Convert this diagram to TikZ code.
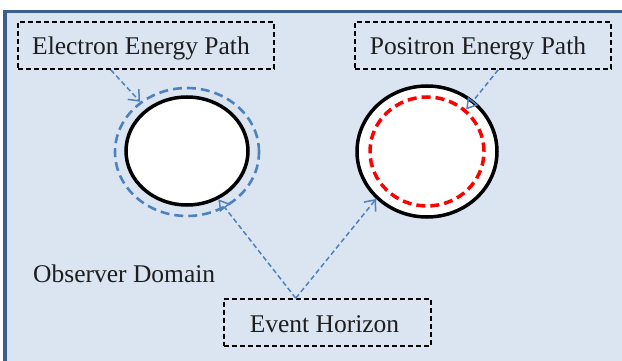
\documentclass[tikz,border=0pt]{standalone}
\usepackage{fontspec}
\setmainfont{Liberation Serif}
\usetikzlibrary{shapes.geometric,arrows.meta,calc}
\definecolor{domainfill}{HTML}{DBE5F1}
\definecolor{domainedge}{HTML}{3B5F8E}
\definecolor{pathblue}{HTML}{4F81BD}
\definecolor{labelink}{HTML}{1E1E1E}
\tikzset{
  labelbox/.style={draw=black, line width=1.6pt, dash pattern=on 5pt off 3pt,
    rectangle, inner sep=0pt, minimum height=47pt},
  labeltext/.style={text=labelink, font=\fontsize{25.5}{30}\selectfont, inner sep=0pt, anchor=base},
  horizon/.style={ellipse, draw=black, fill=white, line width=3.5pt, inner sep=0pt},
  orbit/.style={ellipse, inner sep=0pt, dash pattern=on 9pt off 5pt},
  pointer/.style={draw=pathblue, line width=1.5pt, dash pattern=on 5pt off 3pt},
  barbtip/.style={-{Straight Barb[length=9pt, width=15pt, line width=1.5pt]}},
  opentip/.style={-{Triangle[open, length=11pt, width=13pt, line width=1.5pt]}}
}
\begin{document}
\begin{tikzpicture}[x=1pt, y=-1pt]
  \useasboundingbox (0,0) rectangle (622,361);
  % observer domain panel
  \fill[domainfill] (3,10) rectangle (622,361);
  \draw[domainedge, line width=3pt] (3,11.5) -- (622,11.5);
  \draw[domainedge, line width=4pt] (5,10) -- (5,361);

  % electron side: horizon with its energy path just outside
  \node[orbit, draw=pathblue, line width=2.6pt, minimum width=144pt, minimum height=128pt] (eorbit) at (187,152) {};
  \node[horizon, minimum width=122pt, minimum height=108pt] (ehole) at (187,151) {};

  % positron side: horizon with its energy path just inside
  \node[horizon, minimum width=140pt, minimum height=131pt] (phole) at (427,151.5) {};
  \node[orbit, draw=red, line width=3.5pt, minimum width=114pt, minimum height=109pt] (porbit) at (427,151.5) {};

  % labels
  \node[labelbox, minimum width=256pt] (ebox) at (146,45.5) {};
  \node[labeltext] (etext) at (141,55) {Electron Energy Path};
  \node[labelbox, minimum width=256pt] (pbox) at (483,45.5) {};
  \node[labeltext] (ptext) at (478,55) {Positron Energy Path};
  \node[labelbox, minimum width=207pt] (hbox) at (327.5,322.5) {};
  \node[labeltext] (htext) at (324.5,332) {Event Horizon};
  \node[labeltext, anchor=base west] (domain) at (33,282) {Observer Domain};

  % pointers
  \coordinate (estart) at ($(ebox.south west)!0.363!(ebox.south east)$);
  \coordinate (pstart) at ($(pbox.south west)!0.559!(pbox.south east)$);
  \coordinate (hstart) at ($(hbox.north west)!0.348!(hbox.north east)$);
  \draw[pointer, barbtip] (estart) -- (eorbit.133);
  \draw[pointer, opentip] (pstart) -- (porbit.47);
  \draw[pointer, opentip] (hstart) -- (ehole.-57);
  \draw[pointer, barbtip] (hstart) -- (phole.223);
\end{tikzpicture}
\end{document}
